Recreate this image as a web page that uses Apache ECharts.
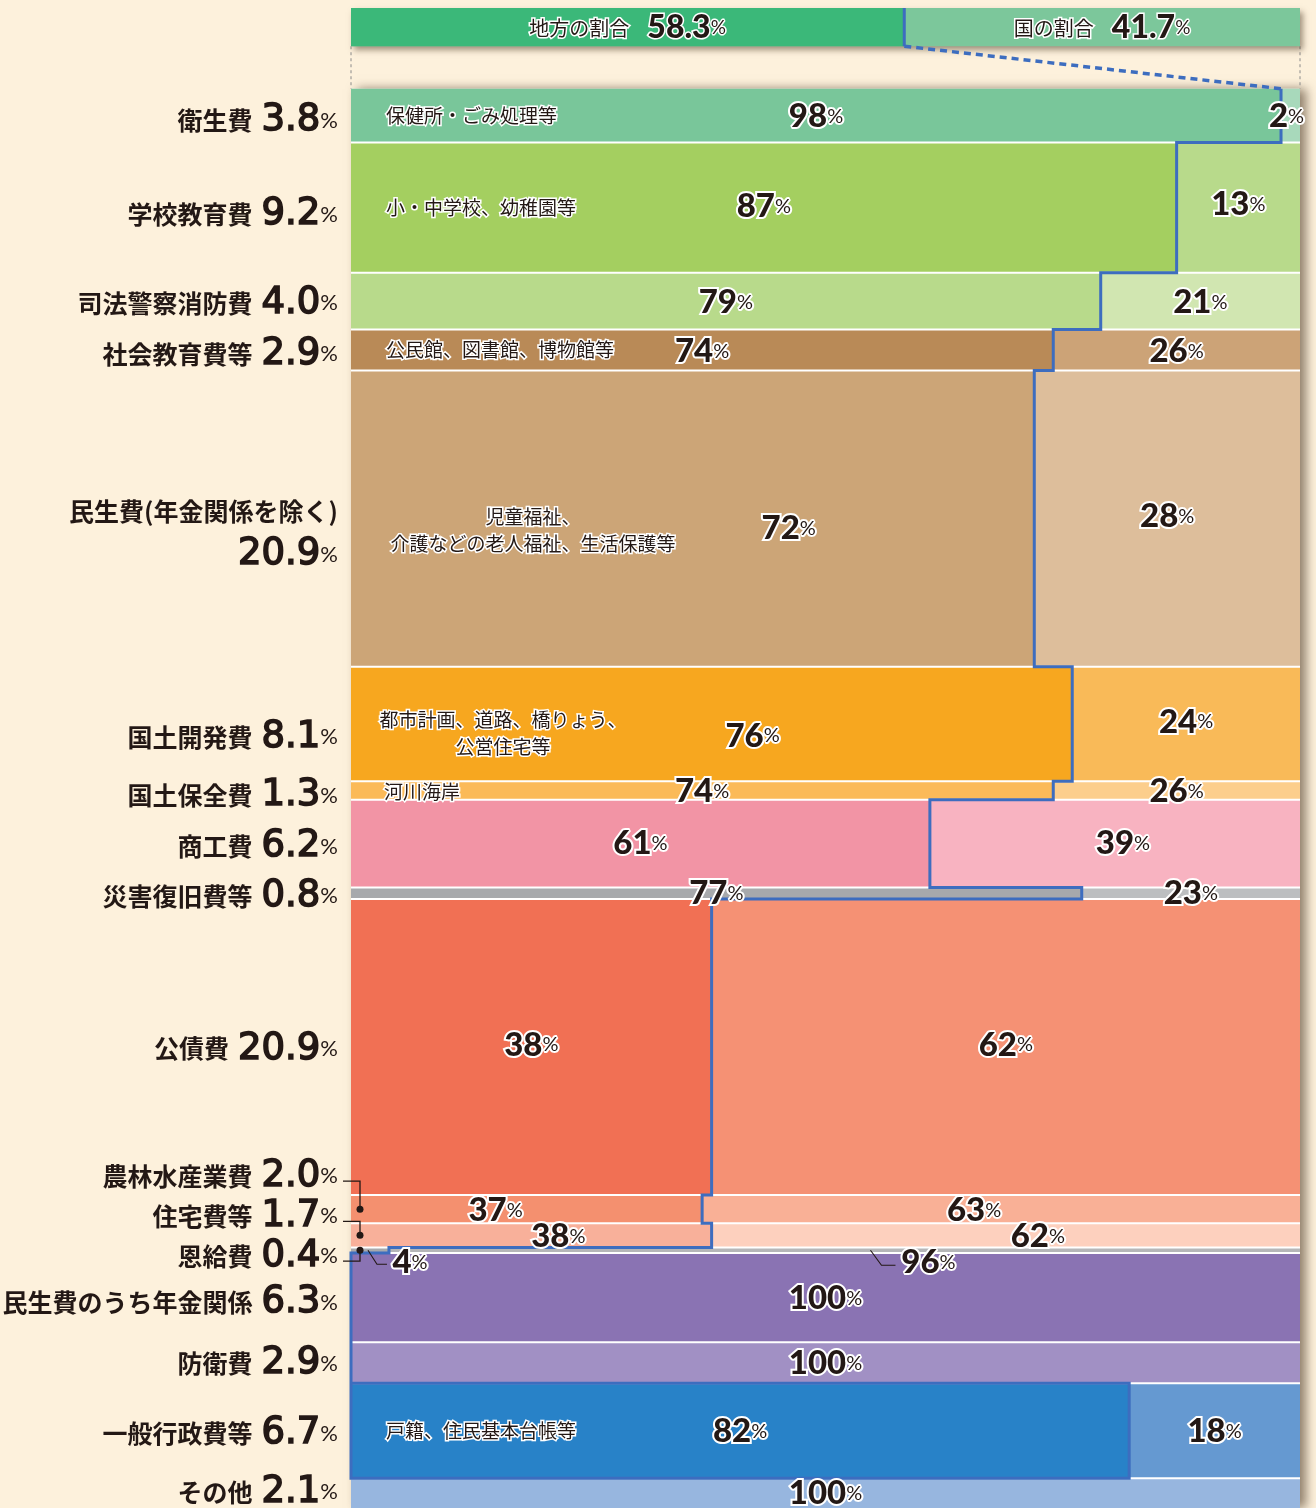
<!DOCTYPE html>
<html>
<head>
<meta charset="utf-8">
<script src="https://cdn.jsdelivr.net/npm/echarts@6/dist/echarts.min.js"></script>
<style>
html,body{margin:0;padding:0;background:#fdf1dc}
#chart{width:1316px;height:1508px}
</style>
</head>
<body>
<div id="chart"></div>
<script>
// 目的別歳出の国・地方の割合
var categories = ['衛生費','学校教育費','司法警察消防費','社会教育費等','民生費(年金関係を除く)','国土開発費','国土保全費','商工費','災害復旧費等','公債費','農林水産業費','住宅費等','恩給費','民生費のうち年金関係','防衛費','一般行政費等','その他'];
var shares = [3.8, 9.2, 4.0, 2.9, 20.9, 8.1, 1.3, 6.2, 0.8, 20.9, 2.0, 1.7, 0.4, 6.3, 2.9, 6.7, 2.1];
var localPct = [98, 87, 79, 74, 72, 76, 74, 61, 77, 38, 37, 38, 4, 0, 0, 82, 0];
var nationalPct = [2, 13, 21, 26, 28, 24, 26, 39, 23, 62, 63, 62, 96, 100, 100, 18, 100];
var notes = ['保健所・ごみ処理等','小・中学校、幼稚園等','','公民館、図書館、博物館等','児童福祉、\n介護などの老人福祉、生活保護等','都市計画、道路、橋りょう、\n公営住宅等','河川海岸','','','','','','','','','戸籍、住民基本台帳等',''];
var headNames = ['地方の割合','国の割合'];
var headPct = [58.3, 41.7];

// 色・配置
var localColors = ['#79c69a','#a4cf60','#b8da8b','#b98a57','#cca577','#f7a71f','#fbba58','#f294a5','#a7a9ac','#f17054','#f4906f','#f8b09a','#a7a9ac','#8a73b3','#a190c4','#2882c8','#97b6df'];
var nationalColors = ['#a8d9bb','#b8da8b','#d1e6b1','#cca377','#ddbe9b','#f9ba58','#fcce8c','#f8b3c1','#bcbec0','#f59174','#f9b096','#fdd0be','#b5b6b8','#8a73b3','#a190c4','#6599d1','#97b6df'];
var NAME_DY = [5, 7, 2, 4, 15, 13, 5, 3, 3, 2, -33, -19, 6, 5, 1, 3, -1];
var LOCAL_DX = [0, 0, 0, 0, 96, 41, 0, 0, 0, 0, -31, 27, 40, 0, 0, 0, 0];
var LOCAL_DY = [1, -1, 1, 1, 10, 12, 1, 0, 0, -2, 1, 1, 12, 1, 1, 1, 0];
var NATION_DX = [-4, 0, 0, 0, 0, 0, 0, 8, 0, 0, -27, 32, 84, 0, 0, 0, 0];
var NATION_DY = [1, -3, 1, 1, -2, -2, 1, 0, 0, -2, 1, 1, 12, 1, 1, 1, 0];
var noteSpecial = {4: {dx: 182, dy: 12, align: 'center'}, 5: {dx: 152, dy: 9, align: 'center'}, 6: {dx: 33, dy: 1}};
var nameLeader = {10: true, 11: true, 12: true};
var innerLeader = {12: {local: [[-42,-12],[-33,2],[-23,2]], nation: [[-58,-12],[-47,3],[-33,3]]}};

var BLUE = '#3d6dbf';
var INK = '#231815';
var JP = '"Noto Sans CJK JP", sans-serif';
var NUM = 'Lato, "Noto Sans", sans-serif';
var NUM_WIDE = '"DejaVu Sans", sans-serif';
var PX_PER_PCT = 14.2;
var HEAD_TOP = -5.7, HEAD_BOTTOM = -3.0;

var rowTop = [], rowBottom = [];
var cum = 0;
for (var i = 0; i < shares.length; i++) {
    rowTop.push(cum);
    cum += shares[i];
    rowBottom.push(cum);
}
var total = cum;

// 地方の割合の境界線（一般行政費等まで）
var lastRow = categories.length - 2;
var outline = [];
for (var k = 0; k <= lastRow; k++) {
    outline.push([localPct[k], rowTop[k]]);
    outline.push([localPct[k], rowBottom[k]]);
}
outline.push([0, rowBottom[lastRow]]);
outline.push([0, rowTop[lastRow]]);

var rowData = categories.map(function (c, i) {
    return [i, rowTop[i], rowBottom[i], localPct[i]];
});

function pctText(v) {
    return '{n|' + v + '}{p|%}';
}
var pctRich = {
    n: {fontSize: 33, fontWeight: 900, fontFamily: NUM},
    p: {fontSize: 20, fontFamily: NUM}
};

function renderRow(params, api) {
    var i = api.value(0);
    var y0 = api.value(1), y1 = api.value(2), l = api.value(3);
    var p0 = api.coord([0, y0]);
    var p1 = api.coord([100, y1]);
    var pm = api.coord([l, y0]);
    var h = p1[1] - p0[1];
    var children = [];
    if (i === 0) {
        var top = api.coord([0, 0]);
        var bot = api.coord([100, total]);
        children.push({type: 'rect', shape: {x: top[0], y: top[1], width: bot[0] - top[0], height: bot[1] - top[1]},
            style: {fill: '#ffffff', shadowColor: 'rgba(70,50,30,0.6)', shadowBlur: 10, shadowOffsetX: 6}});
    }
    if (l > 0) {
        children.push({type: 'rect', shape: {x: p0[0], y: p0[1], width: pm[0] - p0[0], height: h}, style: {fill: localColors[i]}});
    }
    if (l < 100) {
        children.push({type: 'rect', shape: {x: pm[0], y: p0[1], width: p1[0] - pm[0], height: h}, style: {fill: nationalColors[i]}});
    }
    if (i > 0) {
        children.push({type: 'line', shape: {x1: p0[0], y1: p0[1], x2: p1[0], y2: p0[1]}, style: {stroke: '#ffffff', lineWidth: 2}});
    }
    return {type: 'group', children: children};
}

function renderLabel(params, api) {
    var i = api.value(0);
    var y0 = api.value(1), y1 = api.value(2), l = api.value(3);
    var p0 = api.coord([0, y0]);
    var p1 = api.coord([100, y1]);
    var pm = api.coord([l, y0]);
    var mid = (p0[1] + p1[1]) / 2;
    var children = [];

    // 左側の項目名
    var share = shares[i].toFixed(1);
    var nameY = mid + NAME_DY[i];
    var sep = (i === 4) ? '\n' : '';
    children.push({
        type: 'text', x: p0[0] - 13, y: nameY,
        style: {
            text: '{name|' + categories[i] + '}' + sep + '{num|' + share + '}{pct|%}',
            align: 'right', verticalAlign: 'middle', fill: INK,
            rich: {
                name: {fontSize: 25, fontWeight: 'bold', fontFamily: JP, lineHeight: 42},
                num: {fontSize: 37, fontFamily: NUM_WIDE, padding: [0, 0, 0, 9], lineHeight: 44, stroke: INK, lineWidth: 1.6},
                pct: {fontSize: 22, fontFamily: NUM, lineHeight: 44}
            }
        }
    });
    if (nameLeader[i]) {
        var lx = p0[0] + 9;
        children.push({type: 'polyline', shape: {points: [[p0[0] - 8, nameY + 5], [lx, nameY + 5], [lx, mid]]},
            style: {stroke: INK, lineWidth: 1.3, fill: null}});
        children.push({type: 'circle', shape: {cx: lx, cy: mid, r: 3.5}, style: {fill: INK}});
    }

    // 内訳の説明
    if (notes[i]) {
        var ns = noteSpecial[i] || {};
        children.push({
            type: 'text', x: p0[0] + (ns.dx != null ? ns.dx : 35), y: mid + (ns.dy || 0),
            style: {
                text: notes[i], align: ns.align || 'left', verticalAlign: 'middle',
                fontSize: 19, fontFamily: JP, lineHeight: 27,
                fill: INK, stroke: '#ffffff', lineWidth: 3
            }
        });
    }

    // 地方の割合
    if (localPct[i] > 0) {
        var lcx = (p0[0] + pm[0]) / 2 + LOCAL_DX[i];
        var lcy = mid + LOCAL_DY[i];
        children.push({
            type: 'text', x: lcx, y: lcy,
            style: {text: pctText(localPct[i]), align: 'center', verticalAlign: 'middle',
                fill: INK, stroke: '#ffffff', lineWidth: 4, rich: pctRich}
        });
        if (innerLeader[i]) {
            children.push({type: 'polyline', shape: {points: innerLeader[i].local.map(function (d) { return [lcx + d[0], lcy + d[1]]; })},
                style: {stroke: INK, lineWidth: 1.1, fill: null}});
        }
    }
    // 国の割合
    if (nationalPct[i] > 0) {
        var ncx = (pm[0] + p1[0]) / 2 + NATION_DX[i];
        var ncy = mid + NATION_DY[i];
        children.push({
            type: 'text', x: ncx, y: ncy,
            style: {text: pctText(nationalPct[i]), align: 'center', verticalAlign: 'middle',
                fill: INK, stroke: '#ffffff', lineWidth: 4, rich: pctRich}
        });
        if (innerLeader[i]) {
            children.push({type: 'polyline', shape: {points: innerLeader[i].nation.map(function (d) { return [ncx + d[0], ncy + d[1]]; })},
                style: {stroke: INK, lineWidth: 1.1, fill: null}});
        }
    }
    return {type: 'group', children: children};
}

function renderHead(params, api) {
    var a = api.coord([0, HEAD_TOP]);
    var m = api.coord([headPct[0], HEAD_BOTTOM]);
    var b = api.coord([100, HEAD_BOTTOM]);
    var first = api.coord([localPct[0], 0]);
    var h = m[1] - a[1];
    var cy = (a[1] + m[1]) / 2 + 1;
    var headRich = {
        t: {fontSize: 20, fontFamily: JP},
        n: {fontSize: 32, fontWeight: 900, fontFamily: NUM, padding: [0, 0, 0, 18]},
        p: {fontSize: 19, fontFamily: NUM}
    };
    return {type: 'group', children: [
        {type: 'line', shape: {x1: a[0], y1: m[1], x2: a[0], y2: first[1]}, style: {stroke: '#8a8a8a', lineWidth: 1, lineDash: [3, 3]}},
        {type: 'line', shape: {x1: b[0], y1: m[1], x2: b[0], y2: first[1]}, style: {stroke: '#8a8a8a', lineWidth: 1, lineDash: [3, 3]}},
        {type: 'rect', shape: {x: a[0], y: a[1], width: b[0] - a[0], height: h},
            style: {fill: '#7cc79b', shadowColor: 'rgba(70,50,30,0.5)', shadowBlur: 6, shadowOffsetX: 3, shadowOffsetY: 4}},
        {type: 'rect', shape: {x: a[0], y: a[1], width: m[0] - a[0], height: h}, style: {fill: '#3bb879'}},
        {type: 'line', shape: {x1: m[0], y1: a[1], x2: m[0], y2: m[1]}, style: {stroke: BLUE, lineWidth: 3}},
        {type: 'line', shape: {x1: m[0], y1: m[1], x2: first[0], y2: first[1]}, style: {stroke: BLUE, lineWidth: 3.5, lineDash: [7, 5]}},
        {type: 'text', x: (a[0] + m[0]) / 2, y: cy,
            style: {text: '{t|' + headNames[0] + '}{n|' + headPct[0] + '}{p|%}', align: 'center', verticalAlign: 'middle',
                fill: INK, stroke: '#ffffff', lineWidth: 3, rich: headRich}},
        {type: 'text', x: (m[0] + b[0]) / 2, y: cy,
            style: {text: '{t|' + headNames[1] + '}{n|' + headPct[1] + '}{p|%}', align: 'center', verticalAlign: 'middle',
                fill: INK, stroke: '#ffffff', lineWidth: 3, rich: headRich}}
    ]};
}

var chart = echarts.init(document.getElementById('chart'), null, {renderer: 'canvas'});
var option = {
    backgroundColor: '#fdf1dc',
    animation: false,
    grid: {left: 351, top: 8, width: 949, height: (total - HEAD_TOP) * PX_PER_PCT},
    xAxis: {type: 'value', min: 0, max: 100, show: false},
    yAxis: {type: 'value', inverse: true, min: HEAD_TOP, max: total, show: false},
    series: [
        {type: 'custom', renderItem: renderRow, data: rowData, z: 2, silent: true, clip: false},
        {type: 'line', data: outline, symbol: 'none', z: 3, silent: true, clip: false,
            lineStyle: {color: BLUE, width: 3, join: 'miter'}},
        {type: 'custom', renderItem: renderHead, data: [[0, HEAD_TOP]], z: 4, silent: true, clip: false},
        {type: 'custom', renderItem: renderLabel, data: rowData, z: 5, silent: true, clip: false}
    ]
};
chart.setOption(option);
</script>
</body>
</html>
